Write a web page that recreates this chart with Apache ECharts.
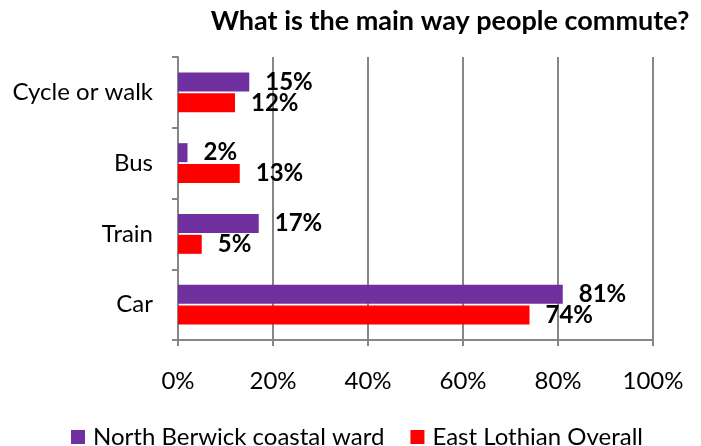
<!DOCTYPE html>
<html><head><meta charset="utf-8">
<script src="https://cdn.jsdelivr.net/npm/echarts@6/dist/echarts.min.js"></script>
<style>html,body{margin:0;padding:0;background:#fff}#c{width:701px;height:446px}</style>
</head><body><div id="c"></div>
<script>
const categories = ['Cycle or walk', 'Bus', 'Train', 'Car'];
const northBerwick = [15, 2, 17, 81];
const eastLothian = [12, 13, 5, 74];
const xTicks = [0, 20, 40, 60, 80, 100];
const seriesNames = ['North Berwick coastal ward', 'East Lothian Overall'];

const FONT = 'Lato';
const chart = echarts.init(document.getElementById('c'), null, {renderer: 'canvas'});
const labelStyle = {show: true, position: 'right', distance: 16, formatter: '{c}%', fontFamily: FONT, fontWeight: 'bold', fontSize: 24, color: '#000'};
chart.setOption({
  animation: false,
  title: {text: 'What is the main way people commute?', left: 445, top: 3, textAlign: 'center',
    textStyle: {fontFamily: FONT, fontWeight: 'bold', fontSize: 27, color: '#000'}},
  legend: {top: 420, left: 66, itemWidth: 14, itemHeight: 14, itemGap: 26, icon: 'rect',
    textStyle: {fontFamily: FONT, fontSize: 24, color: '#000', padding: [0, 0, 0, 3]}, data: seriesNames},
  grid: {left: 178, right: 48, top: 57, bottom: 106, containLabel: false},
  xAxis: {type: 'value', min: xTicks[0], max: xTicks[xTicks.length - 1], interval: 20,
    axisLine: {show: true, lineStyle: {color: '#868686', width: 2}},
    axisTick: {show: true, length: 6, lineStyle: {color: '#868686', width: 2}},
    splitLine: {show: true, lineStyle: {color: '#868686', width: 2}},
    axisLabel: {formatter: '{value}%', margin: 29, fontFamily: FONT, fontSize: 24, color: '#000'}},
  yAxis: {type: 'category', inverse: true, data: categories,
    axisLine: {show: true, lineStyle: {color: '#868686', width: 2}},
    axisTick: {show: true, length: 6, lineStyle: {color: '#868686', width: 2}},
    axisLabel: {margin: 25, fontFamily: FONT, fontSize: 24, color: '#000'}},
  series: [
    {name: seriesNames[0], type: 'bar', data: northBerwick, barWidth: 19, barGap: '10%',
      itemStyle: {color: '#7030A0'}, label: labelStyle},
    {name: seriesNames[1], type: 'bar', data: eastLothian, barWidth: 19, barGap: '10%',
      itemStyle: {color: '#FF0000'}, label: labelStyle}
  ]
});
</script></body></html>
